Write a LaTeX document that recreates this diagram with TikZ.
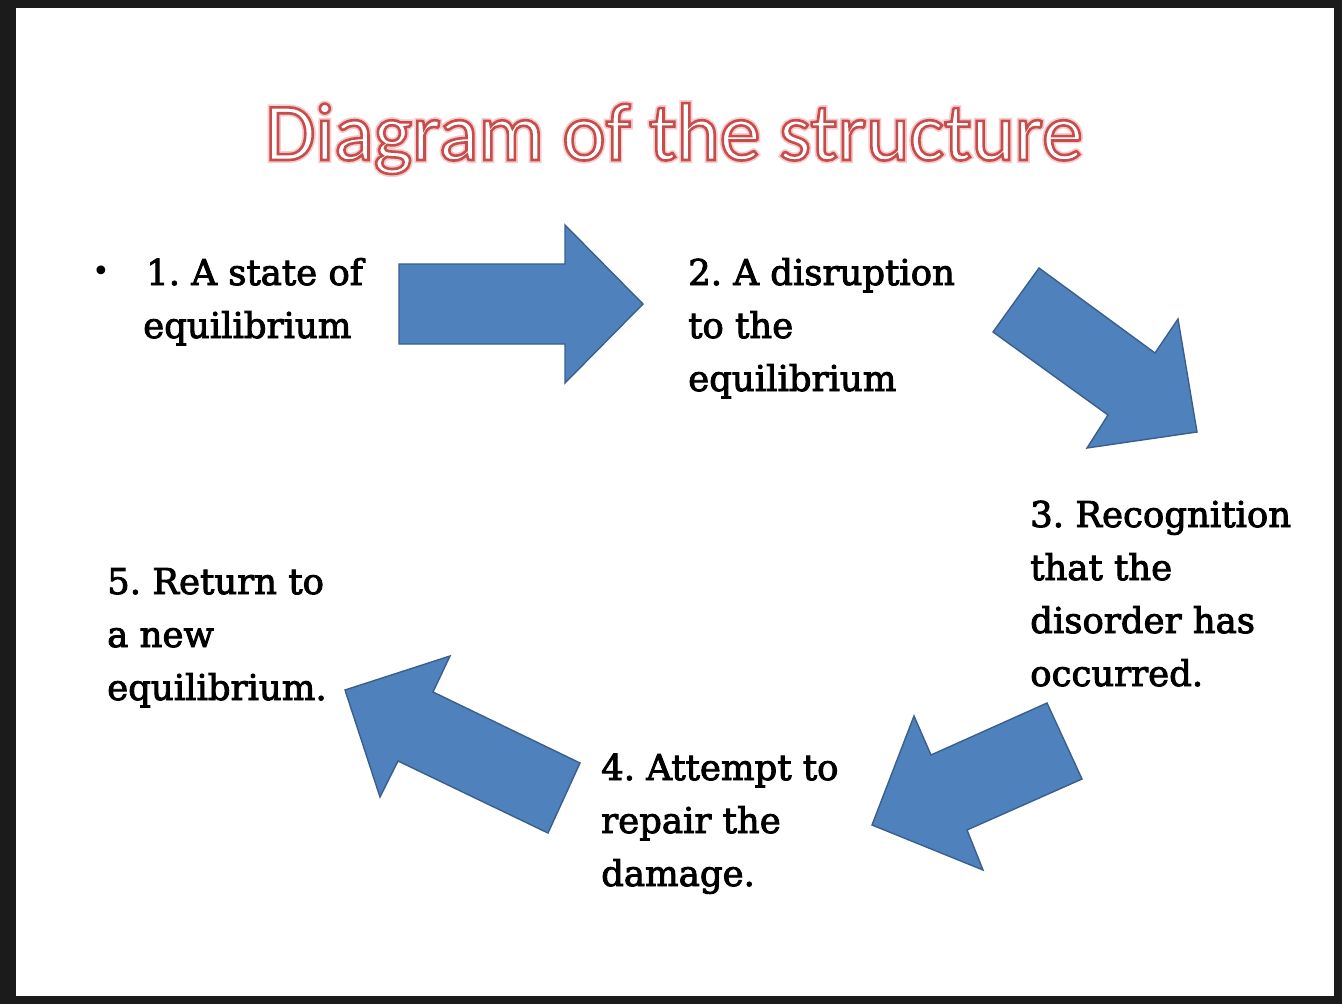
\documentclass[tikz,border=0pt]{standalone}
\usepackage{fontspec}
\setmainfont{DejaVu Serif}
\newfontfamily\titlefont{Carlito}
\definecolor{framebg}{HTML}{1B1B1B}
\definecolor{arrowfill}{HTML}{4F81BD}
\definecolor{arrowline}{HTML}{3A5F8C}
\newcommand{\heavytext}{\special{pdf:literal direct 2 Tr 0.9 w 0 0 0 RG}}
\tikzset{
  blockarrow/.style={fill=arrowfill, draw=arrowline, line width=1.4pt, line join=miter},
  label/.style={inner sep=0pt, anchor=base west, align=left, text=black,
    font=\frenchspacing\fontsize{35.5}{53}\selectfont\heavytext},
  titletext/.style={inner sep=0pt, anchor=base, font=\titlefont\fontsize{82}{90}\selectfont}
}
\newcommand{\outlinetext}[3]{\special{pdf:literal direct 2 Tr #1 w #2 RG}#3\special{pdf:literal direct 0 Tr}}
\begin{document}
\frenchspacing
\begin{tikzpicture}[x=1pt,y=-1pt]
\useasboundingbox (0,0) rectangle (1342,1004);
\fill[framebg] (0,0) rectangle (1342,1004);
\fill[white] (16,8) rectangle (1334,996);

% title (glow, then outline)
\node[titletext, text=white] (titleglow) at (674,160) {\outlinetext{6}{0.96 0.80 0.80}{Diagram of the structure}};
\node[titletext, text=white] (title) at (674,160) {\outlinetext{2.6}{0.78 0.30 0.30}{Diagram of the structure}};

% labels (anchor = baseline of the last line)
\node[inner sep=0pt, anchor=base, font=\fontsize{30}{30}\selectfont] (bullet) at (101,281) {•};
\node[label] (s1) at (146,338) {1. A state of\\\hspace*{-3pt}equilibrium};
\node[label] (s2) at (688,391) {2. A disruption\\to the\\equilibrium};
\node[label] (s3) at (1030,686) {3. Recognition\\that the\\disorder has\\occurred.};
\node[label] (s4) at (601,886) {4. Attempt to\\repair the\\damage.};
\node[label] (s5) at (107,700) {5. Return to\\a new\\equilibrium.};

% arrows
\draw[blockarrow] (399,264) -- (565,264) -- (565,225) -- (643,304) -- (565,383) -- (565,344) -- (399,344) -- cycle;
\draw[blockarrow] (1039,268) -- (1155,353) -- (1178,319) -- (1197,432) -- (1087,448) -- (1108,415) -- (993,332) -- cycle;
\draw[blockarrow] (1047,703) -- (1082,779) -- (967,830) -- (983,870) -- (872,825) -- (914,716) -- (931,755) -- cycle;
\draw[blockarrow] (580,763) -- (548,833) -- (398,761) -- (380,797) -- (345,690) -- (450,656) -- (433,692) -- cycle;
\end{tikzpicture}
\end{document}
